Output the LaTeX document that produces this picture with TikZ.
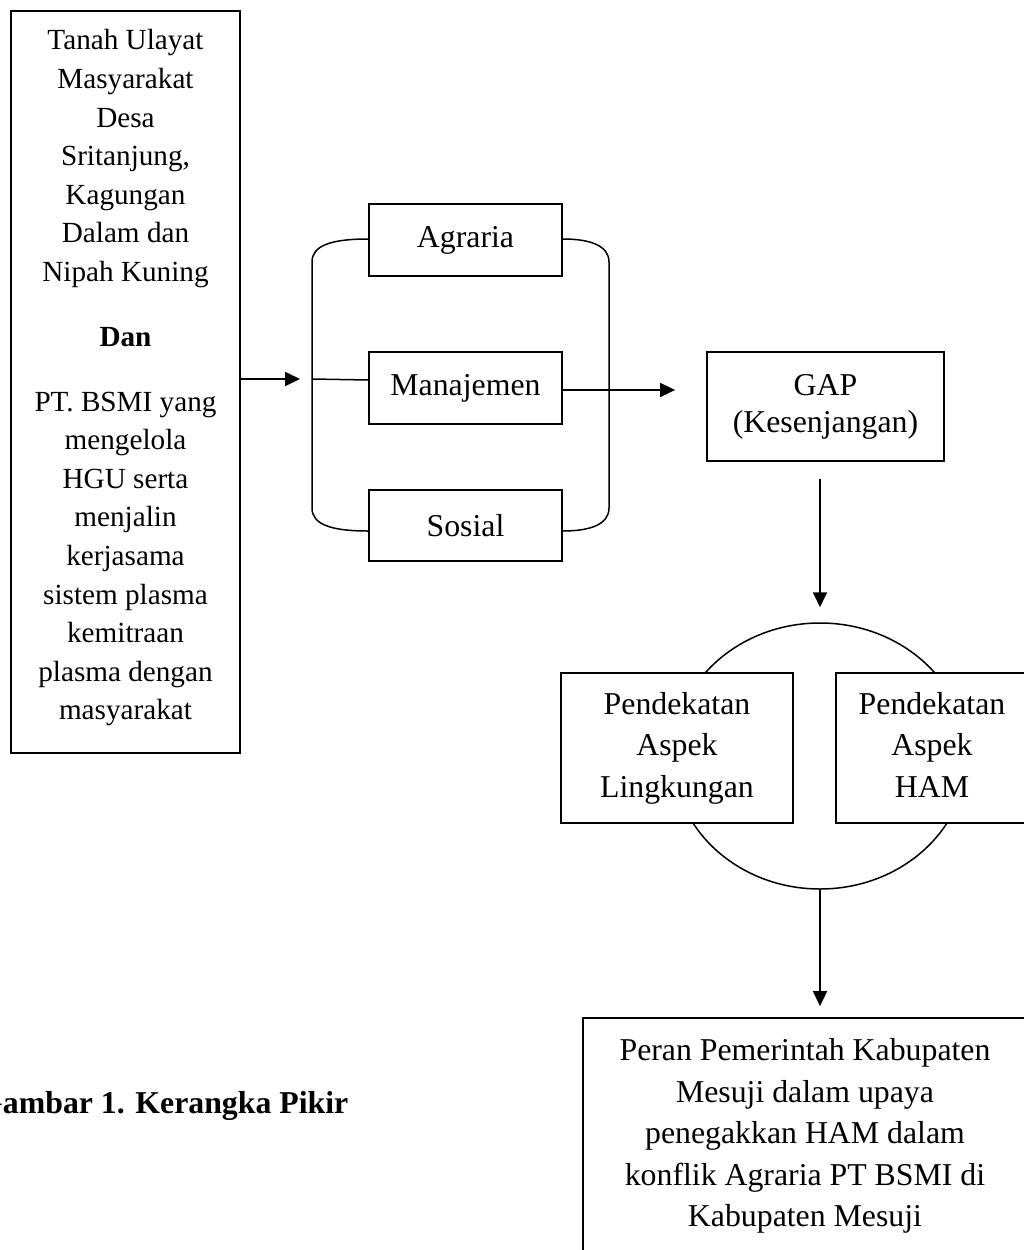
\documentclass[tikz,border=0pt]{standalone}
\usepackage{fontspec}
\setmainfont{Liberation Serif}
\usetikzlibrary{arrows.meta,shapes.geometric}
\begin{document}
\begin{tikzpicture}[x=1pt,y=-1pt,
  box/.style={draw, line width=1.8pt, fill=white, inner sep=0pt, align=center},
  big/.style={font=\fontsize{31.8}{41.5}\selectfont},
  small/.style={font=\fontsize{29.2}{38.6}\selectfont},
  link/.style={line width=1.5pt},
  arr/.style={line width=1.8pt, -{Triangle[length=15pt,width=14pt]}}]
\useasboundingbox (0,0) rectangle (1024,1250);
\clip (0,0) rectangle (1024,1250);

% left source box
\node[box, minimum width=229pt, minimum height=742pt] (src) at (125.5,382) {};
\node[small, align=center, inner sep=0pt] (srctxt) at (125.5,378) {Tanah Ulayat\\ Masyarakat\\ Desa\\ Sritanjung,\\ Kagungan\\ Dalam dan\\ Nipah Kuning\\[26.2pt] \textbf{Dan}\\[26.2pt] PT. BSMI yang\\ mengelola\\ HGU serta\\ menjalin\\ kerjasama\\ sistem plasma\\ kemitraan\\ plasma dengan\\ masyarakat};

% three aspects
\node[box, big, minimum width=193pt, minimum height=72pt] (agr) at (465.5,240) {Agraria};
\node[box, big, minimum width=193pt, minimum height=72pt] (man) at (465.5,388) {Manajemen};
\node[box, big, minimum width=193pt, minimum height=71pt] (sos) at (465.5,525.5) {Sosial};

% bracket
\coordinate (join) at (312,379);
\draw[link] (agr.west |- 0,239) .. controls (330,239) and (312,246) .. (312,262) -- (312,508) .. controls (312,524) and (330,531) .. (sos.west |- 0,531);
\draw[link] (agr.east |- 0,239) .. controls (591,239) and (609,246) .. (609,262) -- (609,508) .. controls (609,524) and (591,531) .. (sos.east |- 0,531);
\draw[link] (join) -- (man.west |- 0,380);
\draw[arr, shorten >=12pt] (src.east |- join) -- (join);

% GAP
\node[box, font=\fontsize{31.8}{37}\selectfont, minimum width=237pt, minimum height=109pt] (gap) at (825.5,406.5) {GAP\\(Kesenjangan)};
\draw[arr, shorten >=31pt] (man.east |- 0,390) -- (gap.west |- 0,390);

% ring and approaches
\node[ellipse, draw, line width=1.5pt, minimum width=294pt, minimum height=266pt, inner sep=0pt] (ring) at (820,756) {};
\draw[arr, shorten <=17pt, shorten >=15pt] (gap.south -| ring.north) -- (ring.north);
\node[box, big, minimum width=232pt, minimum height=150pt] (ling) at (677,748) {Pendekatan\\Aspek\\Lingkungan};
\node[box, big, minimum width=192pt, minimum height=150pt] (ham) at (932,748) {Pendekatan\\Aspek\\HAM\vphantom{g}};

% final box
\node[box, big, minimum width=444pt, minimum height=236pt] (final) at (805,1136) {Peran Pemerintah Kabupaten\\Mesuji dalam upaya\\penegakkan HAM dalam\\konflik Agraria PT BSMI di\\Kabupaten Mesuji};
\draw[arr, shorten >=11pt] (ring.south) -- (final.north -| ring.south);

% caption
\node[big, anchor=base west, inner sep=0pt] (cap) at (-22,1113) {\textbf{Gambar 1. Kerangka Pikir}};
\end{tikzpicture}
\end{document}
